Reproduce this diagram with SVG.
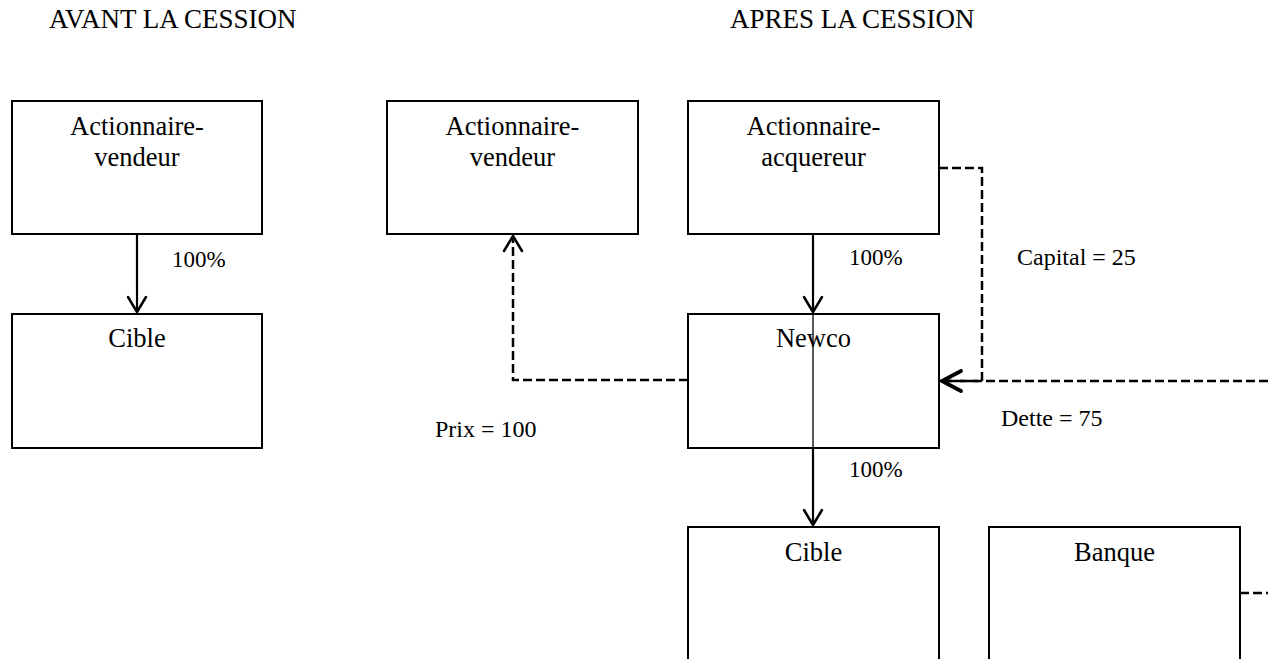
<svg xmlns="http://www.w3.org/2000/svg" width="1268" height="659" viewBox="0 0 1268 659">
<defs>
<style>
text{font-family:"Liberation Serif","Times New Roman",serif;fill:#000}
.h{font-size:27px}
.b{font-size:26.5px;text-anchor:middle}
.l{font-size:24px}
.p{font-size:23px}
.box{fill:#fff;stroke:#000;stroke-width:2}
.c{fill:none;stroke:#000;stroke-width:2.2}
.d{fill:none;stroke:#000;stroke-width:2.5;stroke-dasharray:9,4}
.thin{fill:none;stroke:#000;stroke-width:1.3}
.ah{fill:none;stroke:#000;stroke-width:2.5;stroke-linecap:round;stroke-linejoin:miter}
.ahb{fill:none;stroke:#000;stroke-width:3.8;stroke-linecap:round;stroke-linejoin:miter}
</style>
</defs>
<rect width="1268" height="659" fill="#fff"/>
<text class="h" x="49" y="28">AVANT LA CESSION</text>
<text class="h" x="730" y="28">APRES LA CESSION</text>

<g id="connectors">
<line class="c" x1="137" y1="234" x2="137" y2="312"/>
<polyline class="ah" points="128,297 137,312 146,297"/>
<line class="c" x1="813" y1="234" x2="813" y2="312"/>
<polyline class="ah" points="804,297 813,312 822,297"/>
<line class="thin" x1="813" y1="314" x2="813" y2="448"/>
<line class="c" x1="813" y1="448" x2="813" y2="525"/>
<polyline class="ah" points="804,510 813,525 822,510"/>
<polyline class="d" points="688,380 513,380 513,237"/>
<polyline class="ah" points="504,251 513,236 522,251"/>
<polyline class="d" points="939,168 982,168 982,381 942,381"/>
<line class="d" x1="1268" y1="381" x2="942" y2="381"/>
<polyline class="ahb" points="961,371 942,381 961,391"/>
<line class="d" x1="1240" y1="593" x2="1268" y2="593"/>
<text class="p" x="172" y="267">100%</text>
<text class="p" x="849" y="265">100%</text>
<text class="p" x="849" y="477">100%</text>
<text class="l" x="1017" y="265">Capital = 25</text>
<text class="l" x="1001" y="426">Dette = 75</text>
<text class="l" x="435" y="437">Prix = 100</text>
</g>

<g id="av-vendeur">
<rect class="box" x="12" y="101" width="250" height="133"/>
<text class="b" x="137" y="135">Actionnaire-</text>
<text class="b" x="137" y="166">vendeur</text>
</g>
<g id="av-cible">
<rect class="box" x="12" y="314" width="250" height="134"/>
<text class="b" x="137" y="347">Cible</text>
</g>
<g id="ap-vendeur">
<rect class="box" x="387" y="101" width="251" height="133"/>
<text class="b" x="512.5" y="135">Actionnaire-</text>
<text class="b" x="512.5" y="166">vendeur</text>
</g>
<g id="ap-acquereur">
<rect class="box" x="688" y="101" width="251" height="133"/>
<text class="b" x="813.5" y="135">Actionnaire-</text>
<text class="b" x="813.5" y="166">acquereur</text>
</g>
<g id="newco">
<rect class="box" x="688" y="314" width="251" height="134" fill-opacity="0"/>
<text class="b" x="813.5" y="347">Newco</text>
</g>
<g id="ap-cible">
<rect class="box" x="688" y="527" width="251" height="140"/>
<text class="b" x="813.5" y="561">Cible</text>
</g>
<g id="banque">
<rect class="box" x="989" y="527" width="251" height="140"/>
<text class="b" x="1114.5" y="561">Banque</text>
</g>
</svg>
